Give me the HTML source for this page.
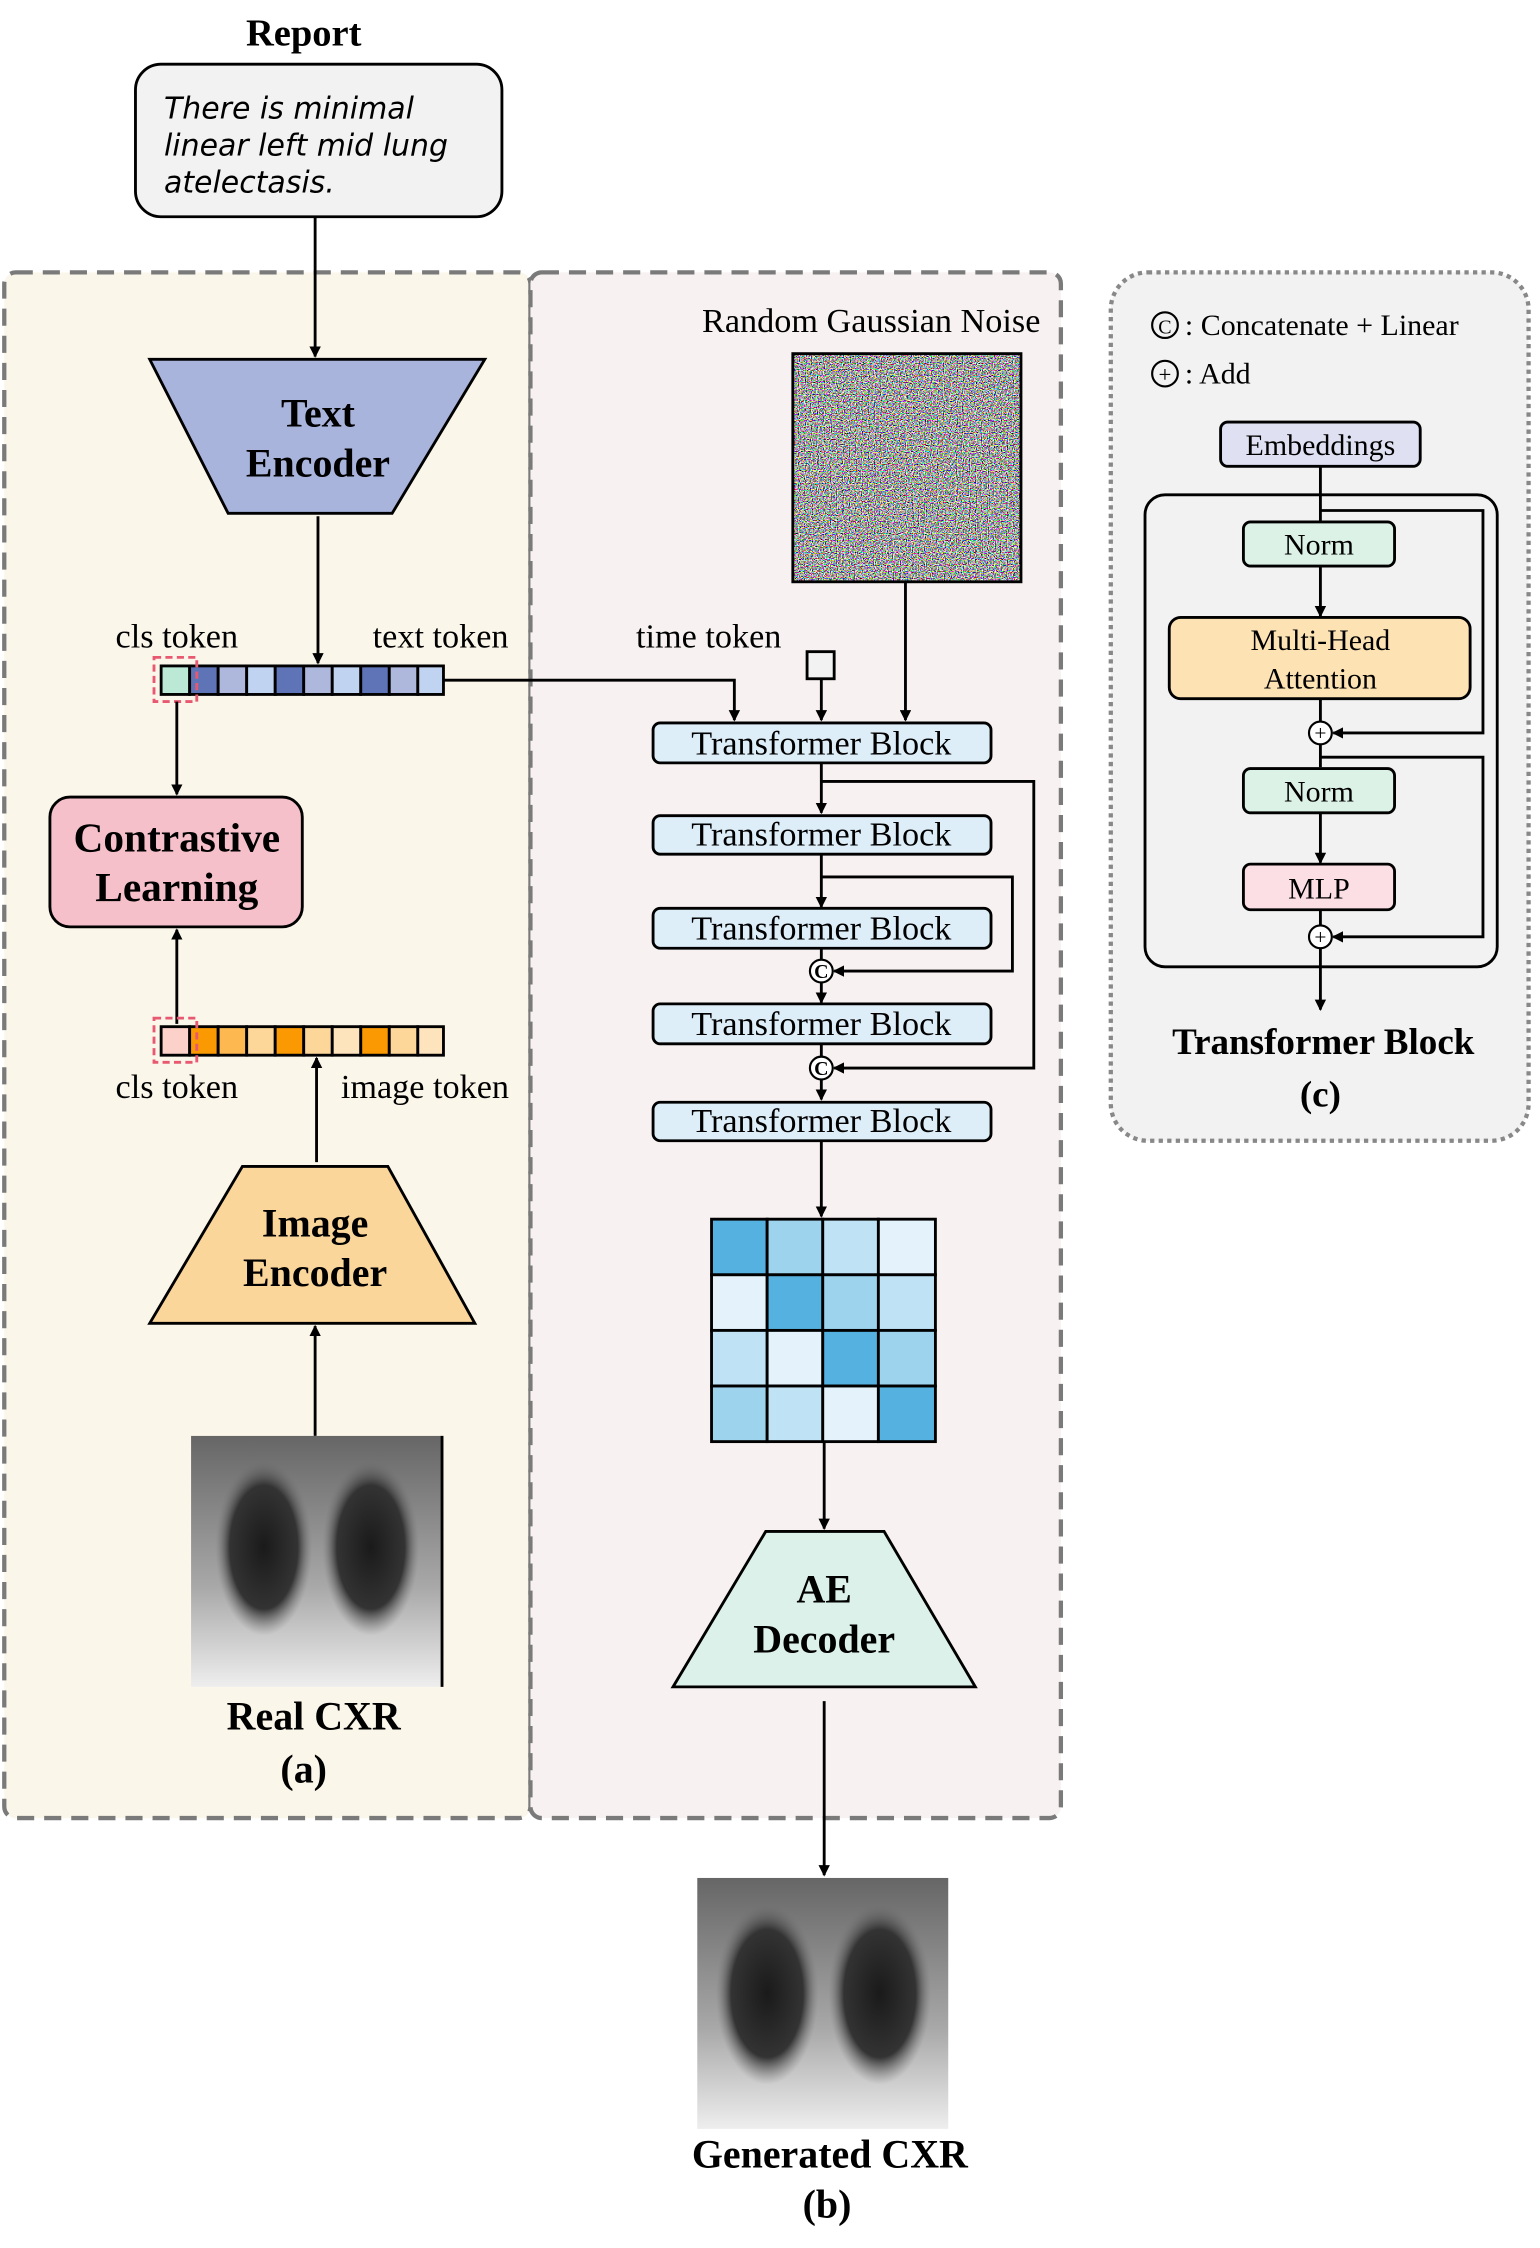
<!DOCTYPE html>
<html><head><meta charset="utf-8"><style>html,body{margin:0;padding:0;background:#fff}svg{display:block}</style></head>
<body>
<svg width="1540" height="2248" viewBox="0 0 1080 1576.5" xmlns="http://www.w3.org/2000/svg" font-family="Liberation Serif, serif">
<defs>
<marker id="a" markerWidth="8" markerHeight="8" refX="7" refY="4" orient="auto" markerUnits="userSpaceOnUse"><path d="M0,0 L8,4 L0,8 Z" fill="#000"/></marker>
<filter id="noise" x="0" y="0" width="100%" height="100%"><feTurbulence type="fractalNoise" baseFrequency="1.2" numOctaves="1" seed="3"/><feComponentTransfer><feFuncR type="linear" slope="6" intercept="-2.5"/><feFuncG type="linear" slope="6" intercept="-2.5"/><feFuncB type="linear" slope="6" intercept="-2.5"/><feFuncA type="linear" slope="0" intercept="1"/></feComponentTransfer></filter>
<radialGradient id="lung" cx="0.5" cy="0.5" r="0.5"><stop offset="0" stop-color="#1a1a1a"/><stop offset="0.7" stop-color="#333"/><stop offset="1" stop-color="#777" stop-opacity="0"/></radialGradient>
<linearGradient id="xr" x1="0" y1="0" x2="0" y2="1"><stop offset="0" stop-color="#666"/><stop offset="0.6" stop-color="#a8a8a8"/><stop offset="1" stop-color="#eee"/></linearGradient>
</defs>

<rect x="3" y="191" width="369" height="1084" rx="8" fill="#fbf6ea" stroke="#7a7a7a" stroke-width="3" stroke-dasharray="12,7"/>
<rect x="372" y="191" width="372" height="1084" rx="8" fill="#f7f1f1" stroke="#7a7a7a" stroke-width="3" stroke-dasharray="12,7"/>
<rect x="779" y="191" width="293" height="609" rx="26" fill="#f2f2f2" stroke="#888" stroke-width="3" stroke-dasharray="3,3"/>

<text x="213" y="32" font-size="27" font-weight="bold" text-anchor="middle">Report</text>
<rect x="95" y="45" width="257" height="107" rx="18" fill="#f2f2f2" stroke="#000" stroke-width="2"/>
<g font-family="DejaVu Sans, sans-serif" font-style="italic" font-size="21">
<text x="115" y="83">There is minimal</text>
<text x="115" y="109">linear left mid lung</text>
<text x="115" y="135">atelectasis.</text>
</g>
<line x1="221" y1="152" x2="221" y2="250" stroke="#000" stroke-width="2" marker-end="url(#a)"/>

<polygon points="105,252 340,252 275,360 160,360" fill="#a9b4dc" stroke="#000" stroke-width="2"/>
<text x="223" y="299" font-size="28" font-weight="bold" text-anchor="middle">Text</text>
<text x="223" y="334" font-size="28" font-weight="bold" text-anchor="middle">Encoder</text>
<line x1="223" y1="362" x2="223" y2="465" stroke="#000" stroke-width="2" marker-end="url(#a)"/>

<text x="124" y="454" font-size="24" text-anchor="middle">cls token</text>
<text x="309" y="454" font-size="24" text-anchor="middle">text token</text>
<g stroke="#000" stroke-width="2">
<rect x="113" y="467" width="20" height="20" fill="#bbe9d5"/>
<rect x="133" y="467" width="20" height="20" fill="#5f74b7"/>
<rect x="153" y="467" width="20" height="20" fill="#aeb8dc"/>
<rect x="173" y="467" width="20" height="20" fill="#c0d4f1"/>
<rect x="193" y="467" width="20" height="20" fill="#5f74b7"/>
<rect x="213" y="467" width="20" height="20" fill="#aeb8dc"/>
<rect x="233" y="467" width="20" height="20" fill="#c0d4f1"/>
<rect x="253" y="467" width="20" height="20" fill="#5f74b7"/>
<rect x="273" y="467" width="20" height="20" fill="#aeb8dc"/>
<rect x="293" y="467" width="18" height="20" fill="#c0d4f1"/>
</g>
<rect x="108" y="461" width="30" height="31" fill="none" stroke="#e85870" stroke-width="2" stroke-dasharray="5,3"/>
<polyline points="311,477 515,477 515,505" fill="none" stroke="#000" stroke-width="2" marker-end="url(#a)"/>
<line x1="124" y1="492" x2="124" y2="557" stroke="#000" stroke-width="2" marker-end="url(#a)"/>

<rect x="35" y="559" width="177" height="91" rx="14" fill="#f5c0c9" stroke="#000" stroke-width="2"/>
<text x="124" y="597" font-size="29" font-weight="bold" text-anchor="middle">Contrastive</text>
<text x="124" y="632" font-size="29" font-weight="bold" text-anchor="middle">Learning</text>
<line x1="124" y1="718" x2="124" y2="652" stroke="#000" stroke-width="2" marker-end="url(#a)"/>

<g stroke="#000" stroke-width="2">
<rect x="113" y="720" width="20" height="20" fill="#fcd1c9"/>
<rect x="133" y="720" width="20" height="20" fill="#fb9902"/>
<rect x="153" y="720" width="20" height="20" fill="#fdb950"/>
<rect x="173" y="720" width="20" height="20" fill="#fdd79a"/>
<rect x="193" y="720" width="20" height="20" fill="#fb9902"/>
<rect x="213" y="720" width="20" height="20" fill="#fdd79a"/>
<rect x="233" y="720" width="20" height="20" fill="#fde4bc"/>
<rect x="253" y="720" width="20" height="20" fill="#fb9902"/>
<rect x="273" y="720" width="20" height="20" fill="#fdd79a"/>
<rect x="293" y="720" width="18" height="20" fill="#fde4bc"/>
</g>
<rect x="108" y="714" width="30" height="31" fill="none" stroke="#e85870" stroke-width="2" stroke-dasharray="5,3"/>
<text x="124" y="770" font-size="24" text-anchor="middle">cls token</text>
<text x="298" y="770" font-size="24" text-anchor="middle">image token</text>
<line x1="222" y1="815" x2="222" y2="742" stroke="#000" stroke-width="2" marker-end="url(#a)"/>

<polygon points="170,818 272,818 333,928 105,928" fill="#fbd69b" stroke="#000" stroke-width="2"/>
<text x="221" y="867" font-size="28" font-weight="bold" text-anchor="middle">Image</text>
<text x="221" y="902" font-size="28" font-weight="bold" text-anchor="middle">Encoder</text>
<line x1="221" y1="1007" x2="221" y2="930" stroke="#000" stroke-width="2" marker-end="url(#a)"/>

<rect x="134" y="1007" width="176" height="176" fill="url(#xr)"/>
<ellipse cx="185" cy="1085" rx="34" ry="62" fill="url(#lung)"/>
<ellipse cx="260" cy="1085" rx="34" ry="62" fill="url(#lung)"/>
<line x1="310" y1="1007" x2="310" y2="1183" stroke="#000" stroke-width="2"/>
<text x="220" y="1213" font-size="28" font-weight="bold" text-anchor="middle">Real CXR</text>
<text x="213" y="1250" font-size="28" font-weight="bold" text-anchor="middle">(a)</text>

<text x="611" y="233" font-size="24" text-anchor="middle">Random Gaussian Noise</text>
<rect x="556" y="248" width="160" height="160" filter="url(#noise)"/>
<rect x="556" y="248" width="160" height="160" fill="none" stroke="#000" stroke-width="2"/>
<line x1="635" y1="408" x2="635" y2="505" stroke="#000" stroke-width="2" marker-end="url(#a)"/>
<text x="497" y="454" font-size="24" text-anchor="middle">time token</text>
<rect x="566" y="457" width="19" height="19" fill="#f2f2f2" stroke="#000" stroke-width="2"/>
<line x1="576" y1="476" x2="576" y2="505" stroke="#000" stroke-width="2" marker-end="url(#a)"/>

<g stroke="#000" stroke-width="2" fill="none">
<line x1="576" y1="535" x2="576" y2="570" marker-end="url(#a)"/>
<polyline points="576,548 725,548 725,749 585,749" marker-end="url(#a)"/>
<line x1="576" y1="599" x2="576" y2="636" marker-end="url(#a)"/>
<polyline points="576,615 710,615 710,681 585,681" marker-end="url(#a)"/>
<line x1="576" y1="665" x2="576" y2="673"/>
<line x1="576" y1="689" x2="576" y2="703" marker-end="url(#a)"/>
<line x1="576" y1="732" x2="576" y2="741"/>
<line x1="576" y1="757" x2="576" y2="771" marker-end="url(#a)"/>
<line x1="576" y1="800" x2="576" y2="853" marker-end="url(#a)"/>
</g>
<g font-size="24" text-anchor="middle">
<rect x="458" y="507" width="237" height="28" rx="5" fill="#ddeef9" stroke="#000" stroke-width="2"/><text x="576" y="529">Transformer Block</text>
<rect x="458" y="572" width="237" height="27" rx="5" fill="#ddeef9" stroke="#000" stroke-width="2"/><text x="576" y="593">Transformer Block</text>
<rect x="458" y="637" width="237" height="28" rx="5" fill="#ddeef9" stroke="#000" stroke-width="2"/><text x="576" y="659">Transformer Block</text>
<rect x="458" y="704" width="237" height="28" rx="5" fill="#ddeef9" stroke="#000" stroke-width="2"/><text x="576" y="726">Transformer Block</text>
<rect x="458" y="773" width="237" height="27" rx="5" fill="#ddeef9" stroke="#000" stroke-width="2"/><text x="576" y="794">Transformer Block</text>
</g>
<g font-size="14" font-weight="bold" text-anchor="middle">
<circle cx="576" cy="681" r="8" fill="#fff" stroke="#000" stroke-width="1.5"/><text x="576" y="686">C</text>
<circle cx="576" cy="749" r="8" fill="#fff" stroke="#000" stroke-width="1.5"/><text x="576" y="754">C</text>
</g>

<g stroke="#000" stroke-width="2">
<rect x="499" y="855" width="39" height="39" fill="#55b2e0"/><rect x="538" y="855" width="39" height="39" fill="#9ed3ee"/><rect x="577" y="855" width="39" height="39" fill="#bfe3f5"/><rect x="616" y="855" width="40" height="39" fill="#e3f2fb"/>
<rect x="499" y="894" width="39" height="39" fill="#e3f2fb"/><rect x="538" y="894" width="39" height="39" fill="#55b2e0"/><rect x="577" y="894" width="39" height="39" fill="#9ed3ee"/><rect x="616" y="894" width="40" height="39" fill="#bfe3f5"/>
<rect x="499" y="933" width="39" height="39" fill="#bfe3f5"/><rect x="538" y="933" width="39" height="39" fill="#e3f2fb"/><rect x="577" y="933" width="39" height="39" fill="#55b2e0"/><rect x="616" y="933" width="40" height="39" fill="#9ed3ee"/>
<rect x="499" y="972" width="39" height="39" fill="#9ed3ee"/><rect x="538" y="972" width="39" height="39" fill="#bfe3f5"/><rect x="577" y="972" width="39" height="39" fill="#e3f2fb"/><rect x="616" y="972" width="40" height="39" fill="#55b2e0"/>
</g>
<line x1="578" y1="1011" x2="578" y2="1072" stroke="#000" stroke-width="2" marker-end="url(#a)"/>
<polygon points="537,1074 620,1074 684,1183 472,1183" fill="#dcf1ea" stroke="#000" stroke-width="2"/>
<text x="578" y="1124" font-size="28" font-weight="bold" text-anchor="middle">AE</text>
<text x="578" y="1159" font-size="28" font-weight="bold" text-anchor="middle">Decoder</text>
<line x1="578" y1="1193" x2="578" y2="1315" stroke="#000" stroke-width="2" marker-end="url(#a)"/>

<rect x="489" y="1317" width="176" height="176" fill="url(#xr)"/>
<ellipse cx="538" cy="1398" rx="36" ry="64" fill="url(#lung)"/>
<ellipse cx="617" cy="1398" rx="36" ry="64" fill="url(#lung)"/>
<text x="582" y="1520" font-size="28" font-weight="bold" text-anchor="middle">Generated CXR</text>
<text x="580" y="1555" font-size="28" font-weight="bold" text-anchor="middle">(b)</text>

<g font-size="21">
<circle cx="817" cy="228" r="9" fill="none" stroke="#000" stroke-width="1.5"/><text x="817" y="234" font-size="14" text-anchor="middle">C</text>
<text x="831" y="235">: Concatenate + Linear</text>
<circle cx="817" cy="262" r="9" fill="none" stroke="#000" stroke-width="1.5"/><text x="817" y="268" font-size="16" text-anchor="middle">+</text>
<text x="831" y="269">: Add</text>
</g>
<rect x="803" y="347" width="247" height="331" rx="14" fill="none" stroke="#000" stroke-width="2"/>
<g stroke="#000" stroke-width="2" fill="none">
<line x1="926" y1="327" x2="926" y2="365"/>
<line x1="926" y1="397" x2="926" y2="432" marker-end="url(#a)"/>
<polyline points="926,358 1040,358 1040,514 935,514" marker-end="url(#a)"/>
<line x1="926" y1="490" x2="926" y2="506"/>
<line x1="926" y1="522" x2="926" y2="538"/>
<polyline points="926,531 1040,531 1040,657 935,657" marker-end="url(#a)"/>
<line x1="926" y1="570" x2="926" y2="605" marker-end="url(#a)"/>
<line x1="926" y1="638" x2="926" y2="649"/>
<line x1="926" y1="665" x2="926" y2="708" marker-end="url(#a)"/>
</g>
<g font-size="21" text-anchor="middle">
<rect x="856" y="296" width="140" height="31" rx="5" fill="#dfe1f2" stroke="#000" stroke-width="2"/><text x="926" y="319">Embeddings</text>
<rect x="872" y="366" width="106" height="31" rx="5" fill="#dcf2e7" stroke="#000" stroke-width="2"/><text x="925" y="389">Norm</text>
<rect x="820" y="433" width="211" height="57" rx="8" fill="#fde2b4" stroke="#000" stroke-width="2"/><text x="926" y="456">Multi-Head</text><text x="926" y="483">Attention</text>
<rect x="872" y="539" width="106" height="31" rx="5" fill="#dcf2e7" stroke="#000" stroke-width="2"/><text x="925" y="562">Norm</text>
<rect x="872" y="606" width="106" height="32" rx="5" fill="#fbdfe5" stroke="#000" stroke-width="2"/><text x="925" y="630">MLP</text>
</g>
<circle cx="926" cy="514" r="8" fill="#fff" stroke="#000" stroke-width="1.5"/><text x="926" y="519" font-size="15" text-anchor="middle">+</text>
<circle cx="926" cy="657" r="8" fill="#fff" stroke="#000" stroke-width="1.5"/><text x="926" y="662" font-size="15" text-anchor="middle">+</text>
<text x="928" y="739" font-size="26" font-weight="bold" text-anchor="middle">Transformer Block</text>
<text x="926" y="776" font-size="26" font-weight="bold" text-anchor="middle">(c)</text>
</svg>
</body></html>
